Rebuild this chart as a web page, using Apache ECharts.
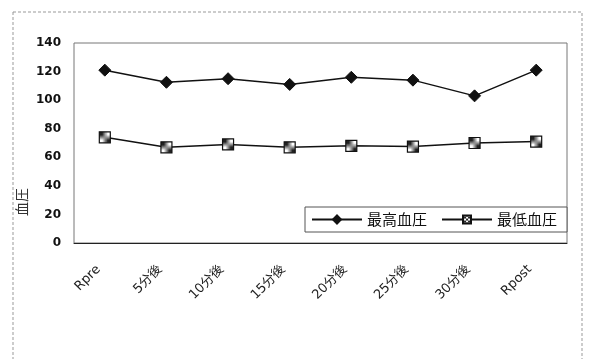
<!DOCTYPE html>
<html>
<head>
<meta charset="utf-8">
<script src="https://cdn.jsdelivr.net/npm/echarts@6/dist/echarts.min.js"></script>
<style>
  html, body { margin: 0; padding: 0; background: #fff; }
  #chart { width: 610px; height: 359px; }
</style>
</head>
<body>
<div id="chart"></div>
<script>
// Measurement points and blood pressure readings
const categories = ['Rpre', '5分後', '10分後', '15分後', '20分後', '25分後', '30分後', 'Rpost'];
const systolic = [121, 112.5, 115, 111, 116, 114, 103, 121];
const diastolic = [74, 67, 69, 67, 68, 67.5, 70, 71];
const yTicks = { min: 0, max: 140, step: 20 };

// Small checkered tile used to fill the square markers
function checkerTile() {
  const c = document.createElement('canvas');
  c.width = 4; c.height = 4;
  const g = c.getContext('2d');
  g.fillStyle = '#fff';
  g.fillRect(0, 0, 4, 4);
  g.fillStyle = '#222';
  g.fillRect(0, 0, 2, 2);
  g.fillRect(2, 2, 2, 2);
  return c;
}

const chart = echarts.init(document.getElementById('chart'), null, { renderer: 'canvas' });
const fontLatin = 'DejaVu Sans, sans-serif';
const fontCJK = 'DejaVu Sans, Noto Sans CJK JP, sans-serif';

chart.setOption({
  backgroundColor: '#fff',
  animation: false,
  grid: {
    left: 74, right: 43, top: 43, bottom: 116,
    show: true, borderColor: '#777', borderWidth: 1
  },
  graphic: [
    {
      type: 'rect',
      shape: { x: 13, y: 12, width: 569, height: 370 },
      style: { fill: 'none', stroke: '#999', lineWidth: 1, lineDash: [3, 2] },
      silent: true
    },
    {
      type: 'text',
      x: 15, y: 216, rotation: Math.PI / 2,
      style: { text: '血圧', font: '14px Noto Sans CJK JP, sans-serif', fill: '#333' }
    }
  ],
  legend: {
    left: 305, top: 207,
    itemWidth: 50, itemHeight: 10, itemGap: 14,
    padding: [5, 10, 5, 6],
    backgroundColor: '#fff',
    borderColor: '#555', borderWidth: 1, borderRadius: 0,
    textStyle: { fontFamily: 'Noto Sans CJK JP, sans-serif', fontSize: 15, color: '#111' },
    data: ['最高血圧', '最低血圧']
  },
  xAxis: {
    type: 'category',
    data: categories,
    boundaryGap: true,
    axisLine: { lineStyle: { color: '#222', width: 1 } },
    axisTick: { show: false },
    axisLabel: {
      rotate: 45, margin: 18, color: '#222', padding: [0, 9, 0, 0],
      fontFamily: fontCJK, fontSize: 13, interval: 0
    }
  },
  yAxis: {
    type: 'value',
    min: yTicks.min, max: yTicks.max, interval: yTicks.step,
    splitLine: { show: false },
    axisLine: { show: false },
    axisTick: { show: false },
    axisLabel: { margin: 13, color: '#111', fontFamily: fontLatin, fontSize: 12, fontWeight: 'bold' }
  },
  series: [
    {
      name: '最高血圧',
      type: 'line',
      data: systolic,
      symbol: 'diamond',
      symbolSize: 12,
      lineStyle: { color: '#111', width: 1.5 },
      itemStyle: { color: '#111', borderColor: '#111', borderWidth: 1 }
    },
    {
      name: '最低血圧',
      type: 'line',
      data: diastolic,
      symbol: 'rect',
      symbolSize: 11,
      lineStyle: { color: '#111', width: 1.5 },
      itemStyle: {
        color: { image: checkerTile(), repeat: 'repeat' },
        borderColor: '#111', borderWidth: 1.2
      }
    }
  ]
});
</script>
</body>
</html>
